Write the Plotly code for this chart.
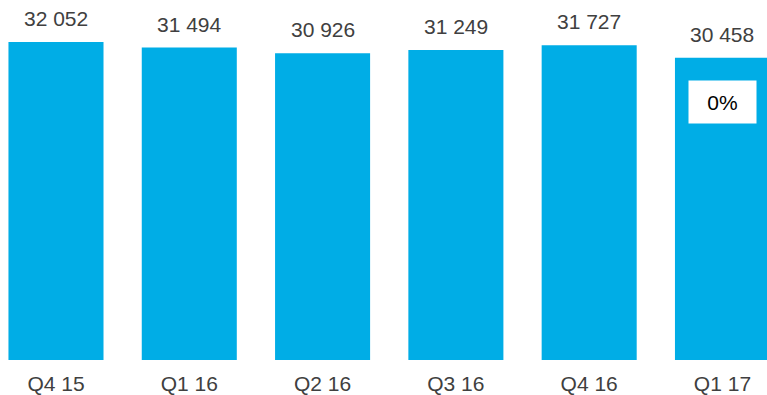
import plotly.graph_objects as go

categories = ["Q4 15", "Q1 16", "Q2 16", "Q3 16", "Q4 16", "Q1 17"]
values = [32052, 31494, 30926, 31249, 31727, 30458]
value_labels = ["32 052", "31 494", "30 926", "31 249", "31 727", "30 458"]
change_label = "0%"

BAR = "#00ADE6"
TXT = "#404040"
FONT = "Liberation Sans, Arial, sans-serif"

fig = go.Figure()
fig.add_trace(go.Bar(
    x=list(range(len(categories))), y=values,
    marker=dict(color=BAR, line=dict(width=0)),
    width=0.713, hoverinfo="skip",
))

for i, (v, lab) in enumerate(zip(values, value_labels)):
    fig.add_annotation(x=i, y=v, text=lab, showarrow=False, yanchor="bottom",
                       yshift=10, font=dict(size=21, color=TXT, family=FONT))

fig.add_annotation(x=5, y=26000, text=change_label, showarrow=False,
                   width=67, height=42, borderpad=0, bgcolor="white",
                   xanchor="center", yanchor="middle",
                   font=dict(size=21, color="#000000", family=FONT))

fig.update_layout(
    width=767, height=395,
    margin=dict(l=0, r=0, t=0, b=35),
    paper_bgcolor="white", plot_bgcolor="white",
    showlegend=False,
    xaxis=dict(range=[-0.42, 5.334], tickvals=list(range(len(categories))),
               ticktext=categories, showgrid=False, zeroline=False,
               showline=False, ticks="", ticklabelstandoff=9, automargin=False,
               tickfont=dict(size=21, color=TXT, family=FONT)),
    yaxis=dict(range=[0, 36290], visible=False, showgrid=False, zeroline=False),
)

fig.write_html("out.html")
